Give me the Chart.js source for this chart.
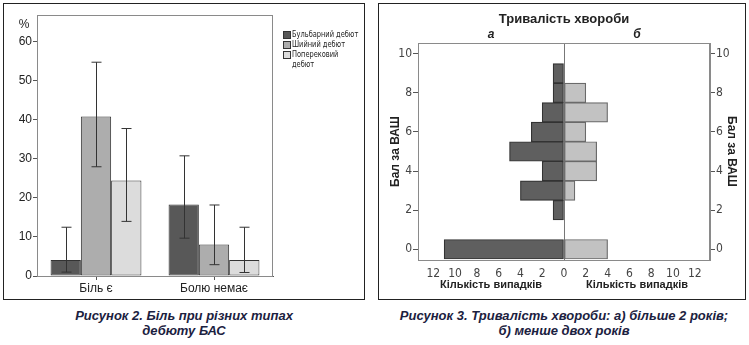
<!DOCTYPE html>
<html>
<head>
<meta charset="utf-8">
<script src="https://cdn.jsdelivr.net/npm/chart.js@4.4.1/dist/chart.umd.min.js"></script>
<style>
  body { margin: 0; background: #fff; font-family: "Liberation Sans", Arial, sans-serif; }
  .panel { position: absolute; border: 1.5px solid #222; box-sizing: border-box; }
  canvas { position: absolute; }
  .cap { position: absolute; text-align: center; font: italic bold 13px "Liberation Sans", Arial, sans-serif; color: #1b2140; line-height: 15px; }
  .legend { position: absolute; left: 283px; top: 29px; font: 9px "DejaVu Sans Condensed", sans-serif; color: #222; line-height: 10px; }
  .legend div { position: relative; padding-left: 9px; }
  .legend span { position: absolute; left: 0; top: 2px; width: 6px; height: 6px; border: 1px solid #333; }
  .legend em { font-style: normal; display: inline-block; transform: scaleX(0.82); transform-origin: left; white-space: nowrap; }
</style>
</head>
<body>
<div class="panel" style="left:3px;top:3px;width:362px;height:297px"></div>
<div class="panel" style="left:378px;top:3px;width:368px;height:297px"></div>
<canvas id="painChart" width="358" height="294" style="left:5px;top:4px"></canvas>
<canvas id="durationChart" width="364" height="294" style="left:380px;top:4px"></canvas>
<div class="legend" id="painLegend"></div>
<div class="cap" style="left:10px;width:348px;top:308px">Рисунок 2. Біль при різних типах<br>дебюту БАС</div>
<div class="cap" style="left:380px;width:368px;top:308px">Рисунок 3. Тривалість хвороби: а) більше 2 років;<br>б) менше двох років</div>
<script>
// --- Figure 2: pain by onset type ---
const painCategories = ["Біль є", "Болю немає"];
const onsetTypes = ["Бульбарний дебют", "Шийний дебют", "Поперековий дебют"];
const painBulbar = [4.1, 18.3];
const painCervical = [40.9, 8.1];
const painLumbar = [24.5, 4.1];
const errLowBulbar = [1.0, 9.7];
const errHighBulbar = [12.5, 30.8];
const errLowCervical = [28.0, 2.9];
const errHighCervical = [54.8, 18.2];
const errLowLumbar = [14.0, 0.9];
const errHighLumbar = [37.8, 12.5];
const painTicks = [0, 10, 20, 30, 40, 50, 60];

// --- Figure 3: VAS score by disease duration ---
const vasScores = [0, 1, 2, 3, 4, 5, 6, 7, 8, 9];
const casesMoreThan2y = [11, 0, 1, 4, 2, 5, 3, 2, 1, 1];
const casesLessThan2y = [4, 0, 0, 1, 3, 3, 2, 4, 2, 0];
const vasTicks = [0, 2, 4, 6, 8, 10];
const caseTicks = [-12, -10, -8, -6, -4, -2, 0, 2, 4, 6, 8, 10, 12];

const axisFont = { family: "'Liberation Sans Narrow', 'DejaVu Sans Condensed', sans-serif", size: 12 };
const frame = {
    id: "frame",
    beforeDatasetsDraw(chart) {
        const a = chart.chartArea, ctx = chart.ctx;
        ctx.save();
        ctx.strokeStyle = "#8a8a8a";
        ctx.lineWidth = 1;
        ctx.strokeRect(a.left + 0.5, a.top + 0.5, a.right - a.left - 1, a.bottom - a.top);
        ctx.restore();
    }
};

const painColors = ["#585858", "#adadad", "#dcdcdc"];
const painErrors = [[errLowBulbar, errHighBulbar], [errLowCervical, errHighCervical], [errLowLumbar, errHighLumbar]];

const errorBars = {
    id: "errorBars",
    afterDatasetsDraw(chart) {
        const ctx = chart.ctx, y = chart.scales.y;
        ctx.save();
        ctx.strokeStyle = "#333";
        ctx.lineWidth = 1;
        chart.data.datasets.forEach(function (ds, i) {
            chart.getDatasetMeta(i).data.forEach(function (bar, j) {
                const x = Math.round(bar.x) + 0.5;
                const lo = y.getPixelForValue(painErrors[i][0][j]);
                const hi = y.getPixelForValue(painErrors[i][1][j]);
                ctx.beginPath();
                ctx.moveTo(x, lo); ctx.lineTo(x, hi);
                ctx.moveTo(x - 5, lo); ctx.lineTo(x + 5, lo);
                ctx.moveTo(x - 5, hi); ctx.lineTo(x + 5, hi);
                ctx.stroke();
            });
        });
        ctx.fillStyle = "#222";
        ctx.font = "12px 'Liberation Sans', sans-serif";
        ctx.textAlign = "center";
        ctx.fillText("%", chart.chartArea.left - 13, chart.chartArea.top + 13);
        ctx.restore();
    }
};

new Chart(document.getElementById("painChart"), {
    type: "bar",
    data: {
        labels: painCategories,
        datasets: [
            { label: onsetTypes[0], data: painBulbar, backgroundColor: painColors[0] },
            { label: onsetTypes[1], data: painCervical, backgroundColor: painColors[1] },
            { label: onsetTypes[2], data: painLumbar, backgroundColor: painColors[2] }
        ].map(function (d) { return Object.assign(d, { borderColor: "#333", borderWidth: 1, borderSkipped: false, barPercentage: 1, categoryPercentage: 0.77 }); })
    },
    options: {
        responsive: false,
        animation: false,
        layout: { padding: { top: 11, right: 90 } },
        plugins: { legend: { display: false }, tooltip: { enabled: false } },
        scales: {
            x: {
                grid: { drawOnChartArea: false, offset: false, tickLength: 4, color: "#555" },
                border: { color: "#555" },
                ticks: { font: { family: "'Liberation Sans', sans-serif", size: 12 }, color: "#222", padding: 1 },
                afterFit(s) { s.height = 22; }
            },
            y: {
                min: 0, max: 66.9,
                grid: { drawOnChartArea: false, tickLength: 4, color: "#555" },
                border: { color: "#555" },
                ticks: { font: { family: "'Liberation Sans', sans-serif", size: 12 }, color: "#222", padding: 1 },
                afterBuildTicks(s) { s.ticks = painTicks.map(function (v) { return { value: v }; }); },
                afterFit(s) { s.width = 32; }
            }
        }
    },
    plugins: [frame, errorBars]
});

document.getElementById("painLegend").innerHTML = onsetTypes.map(function (t, i) {
    const parts = i === 2 ? t.split(" ") : [t];
    return '<div><span style="background:' + painColors[i] + '"></span>' +
        parts.map(function (p) { return "<em>" + p + "</em>"; }).join("<br>") + "</div>";
}).join("");

// mirrored histogram
const panelTexts = {
    id: "panelTexts",
    afterDraw(chart) {
        const ctx = chart.ctx, x = chart.scales.x, a = chart.chartArea;
        const leftMid = x.getPixelForValue(x.min / 2), rightMid = x.getPixelForValue(x.max / 2);
        ctx.save();
        ctx.fillStyle = "#222";
        ctx.textAlign = "center";
        ctx.textBaseline = "middle";
        ctx.font = "bold 13px 'Liberation Sans', sans-serif";
        ctx.fillText("Тривалість хвороби", (a.left + a.right) / 2, 15);
        ctx.font = "italic bold 12px 'Liberation Sans', sans-serif";
        ctx.fillText("а", leftMid, 31);
        ctx.fillText("б", rightMid, 31);
        ctx.font = "bold 11px 'Liberation Sans', sans-serif";
        ctx.fillText("Кількість випадків", leftMid, 281);
        ctx.fillText("Кількість випадків", rightMid, 281);
        ctx.restore();
    }
};

const toBars = function (counts, sign) {
    return vasScores.map(function (s, i) { return { y: s, x: counts[i] ? sign * counts[i] : null }; });
};

const vasAxis = function (position, titlePad, width) {
    return {
        type: "linear", position: position, min: -0.55, max: 10.55, stacked: true, offset: false,
        grid: { drawOnChartArea: false, offset: false, tickLength: 5, color: "#555" },
        border: { color: "#8a8a8a" },
        ticks: { font: axisFont, color: "#444", padding: 1 },
        title: { display: true, text: "Бал за ВАШ", font: { family: "'Liberation Sans', sans-serif", size: 12, weight: "bold" }, color: "#222", padding: { top: titlePad, bottom: 0 } },
        afterBuildTicks(s) { s.ticks = vasTicks.map(function (v) { return { value: v }; }); },
        afterFit(s) { s.width = width; }
    };
};

new Chart(document.getElementById("durationChart"), {
    type: "bar",
    data: {
        datasets: [
            { label: "а", data: toBars(casesMoreThan2y, -1), backgroundColor: "#5f5f5f", borderColor: "#333" },
            { label: "б", data: toBars(casesLessThan2y, 1), backgroundColor: "#c2c2c2", borderColor: "#6a6a6a" }
        ].map(function (d) { return Object.assign(d, { borderWidth: 1.2, borderSkipped: false, barPercentage: 1, categoryPercentage: 1 }); })
    },
    options: {
        indexAxis: "y",
        responsive: false,
        animation: false,
        layout: { padding: { top: 39 } },
        plugins: { legend: { display: false }, tooltip: { enabled: false } },
        scales: {
            x: {
                type: "linear", min: -13.4, max: 13.4, stacked: true,
                grid: {
                    drawTicks: false,
                    color: function (c) { return c.tick && c.tick.value === 0 ? "#777" : "rgba(0,0,0,0)"; }
                },
                border: { color: "#555" },
                ticks: { font: axisFont, color: "#444", padding: 7, callback: function (v) { return Math.abs(v); } },
                afterBuildTicks(s) { s.ticks = caseTicks.map(function (v) { return { value: v }; }); },
                afterFit(s) { s.height = 38; }
            },
            y: vasAxis("left", 8, 38),
            y2: vasAxis("right", 5, 34)
        }
    },
    plugins: [frame, panelTexts]
});
</script>
</body>
</html>
